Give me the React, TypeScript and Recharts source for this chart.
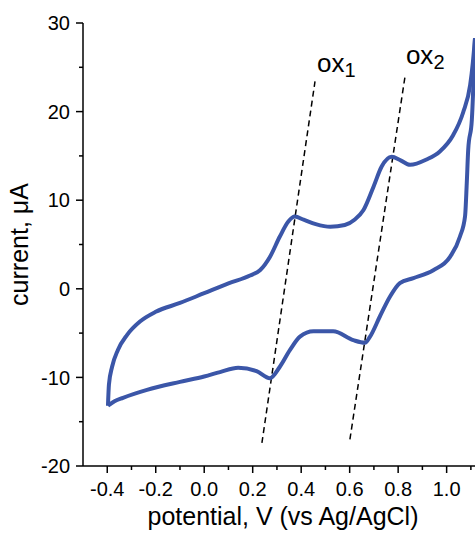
import { LineChart, Line, XAxis, YAxis, ReferenceLine, ReferenceDot } from 'recharts';

// forward scan (anodic), potential in V vs Ag/AgCl, current in µA
const fwdPotential = [
  -0.397, -0.393, -0.38, -0.356, -0.318, -0.265, -0.2, -0.1, 0.0, 0.1, 0.189, 0.23, 0.271,
  0.312, 0.347, 0.374, 0.41, 0.46, 0.52, 0.58, 0.62, 0.657, 0.698, 0.732, 0.773, 0.81,
  0.849, 0.917, 0.972, 1.026, 1.068, 1.097, 1.108, 1.117,
];
const fwdCurrent = [
  -13.2, -10.8, -8.8, -6.9, -5.2, -3.7, -2.6, -1.6, -0.5, 0.6, 1.5, 2.1, 3.6,
  5.9, 7.6, 8.15, 7.8, 7.3, 7.0, 7.2, 7.8, 8.9, 11.5, 13.8, 14.9, 14.5,
  14.0, 14.6, 15.5, 17.3, 19.9, 23.0, 25.5, 28.3,
];

// reverse scan (cathodic), listed left to right
const revPotential = [
  -0.397, -0.37, -0.335, -0.236, -0.1, 0.0, 0.065, 0.14, 0.216, 0.271, 0.312, 0.354, 0.395,
  0.451, 0.532, 0.615, 0.663, 0.684, 0.725, 0.766, 0.807, 0.863, 0.945, 1.014, 1.055,
  1.076, 1.083, 1.089, 1.104, 1.117,
];
const revCurrent = [
  -13.2, -12.7, -12.3, -11.4, -10.5, -9.9, -9.4, -8.9, -9.3, -10.1, -8.8, -6.9, -5.4,
  -4.8, -4.8, -5.8, -6.1, -5.4, -3.1, -0.9, 0.65, 1.2, 2.1, 3.6, 5.9,
  8.2, 11.9, 15.7, 19.1, 28.3,
];

// dashed guide lines through the peak pairs: [bottom, top] as [V, µA]
const ox1Guide = [[0.238, -17.4], [0.457, 23.4]];
const ox2Guide = [[0.601, -17.0], [0.828, 23.9]];
const peakLabels = [
  { sub: '1', v: 0.465, i: 24.5 },
  { sub: '2', v: 0.832, i: 25.4 },
];

const xTicks = [-0.4, -0.3, -0.2, -0.1, 0.0, 0.1, 0.2, 0.3, 0.4, 0.5, 0.6, 0.7, 0.8, 0.9, 1.0, 1.1];
const xLabeled = [-0.4, -0.2, 0.0, 0.2, 0.4, 0.6, 0.8, 1.0];
const yTicks = [-20, -15, -10, -5, 0, 5, 10, 15, 20, 25, 30];
const yLabeled = [-20, -10, 0, 10, 20, 30];

const fwd = fwdPotential.map((v, k) => ({ v, i: fwdCurrent[k] }));
const rev = revPotential.map((v, k) => ({ v, i: revCurrent[k] }));

const FONT = '"Liberation Sans", Arial, sans-serif';
const BLUE = '#3B56A8';
const TICK = 7;
const MINOR = 4;
const GAP_X = 9;
const GAP_Y = 6;

const has = (arr: number[], v: number) => arr.some((m) => Math.abs(m - v) < 1e-6);

function XTick({ x, y, payload }: any) {
  const major = has(xLabeled, payload.value);
  const y0 = y - TICK - GAP_X;
  return (
    <g>
      <line x1={x} x2={x} y1={y0} y2={y0 + (major ? TICK : MINOR)} stroke="#000" strokeWidth={1.5} />
      {major && (
        <text x={x} y={y} dy="0.71em" textAnchor="middle" fontSize={20} fontFamily={FONT} fill="#000">
          {payload.value.toFixed(1)}
        </text>
      )}
    </g>
  );
}

function YTick({ x, y, payload }: any) {
  const major = has(yLabeled, payload.value);
  const x0 = x + TICK + GAP_Y;
  return (
    <g>
      <line x1={x0} x2={x0 - (major ? TICK : MINOR)} y1={y} y2={y} stroke="#000" strokeWidth={1.5} />
      {major && (
        <text x={x} y={y} dy="0.355em" textAnchor="end" fontSize={20} fontFamily={FONT} fill="#000">
          {payload.value}
        </text>
      )}
    </g>
  );
}

export default function App() {
  return (
    <div style={{ position: 'absolute', left: 0, top: 0, background: '#fff' }}>
      <LineChart width={475} height={536} margin={{ top: 23, right: 0, bottom: 0, left: 0 }}>
        <XAxis
          type="number"
          dataKey="v"
          domain={[-0.5, 1.117]}
          allowDataOverflow
          ticks={xTicks}
          interval={0}
          tickSize={TICK}
          tickMargin={GAP_X}
          tickLine={false}
          tick={<XTick />}
          axisLine={{ stroke: '#000', strokeWidth: 1.5 }}
          height={70}
          label={{
            content: ({ viewBox }: any) => (
              <text
                x={viewBox.x + viewBox.width / 2 + 4}
                y={viewBox.y + 59}
                textAnchor="middle"
                fontSize={25}
                fontFamily={FONT}
                fill="#000"
              >
                potential, V (vs Ag/AgCl)
              </text>
            ),
          }}
        />
        <YAxis
          type="number"
          dataKey="i"
          domain={[-20, 30]}
          allowDataOverflow
          ticks={yTicks}
          interval={0}
          tickSize={TICK}
          tickMargin={GAP_Y}
          tickLine={false}
          tick={<YTick />}
          axisLine={{ stroke: '#000', strokeWidth: 1.5 }}
          width={83}
          label={{
            content: ({ viewBox }: any) => {
              const cx = 28;
              const cy = viewBox.y + viewBox.height / 2;
              return (
                <text
                  x={cx}
                  y={cy}
                  transform={`rotate(-90 ${cx} ${cy})`}
                  textAnchor="middle"
                  fontSize={25}
                  fontFamily={FONT}
                  fill="#000"
                >
                  current, μA
                </text>
              );
            },
          }}
        />
        <ReferenceLine
          segment={ox1Guide.map(([x, y]) => ({ x, y }))}
          stroke="#000"
          strokeWidth={1.5}
          strokeDasharray="6 4"
        />
        <ReferenceLine
          segment={ox2Guide.map(([x, y]) => ({ x, y }))}
          stroke="#000"
          strokeWidth={1.5}
          strokeDasharray="6 4"
        />
        <Line
          data={fwd}
          dataKey="i"
          type="monotone"
          stroke={BLUE}
          strokeWidth={4}
          dot={false}
          isAnimationActive={false}
        />
        <Line
          data={rev}
          dataKey="i"
          type="monotone"
          stroke={BLUE}
          strokeWidth={4}
          dot={false}
          isAnimationActive={false}
        />
        {peakLabels.map((p) => (
          <ReferenceDot
            key={p.sub}
            x={p.v}
            y={p.i}
            r={0}
            fill="none"
            stroke="none"
            label={{
              content: ({ viewBox }: any) => (
                <text x={viewBox.x} y={viewBox.y} fontFamily={FONT} fill="#000">
                  <tspan fontSize={26}>ox</tspan>
                  <tspan fontSize={20} dy={5}>{p.sub}</tspan>
                </text>
              ),
            }}
          />
        ))}
      </LineChart>
    </div>
  );
}
